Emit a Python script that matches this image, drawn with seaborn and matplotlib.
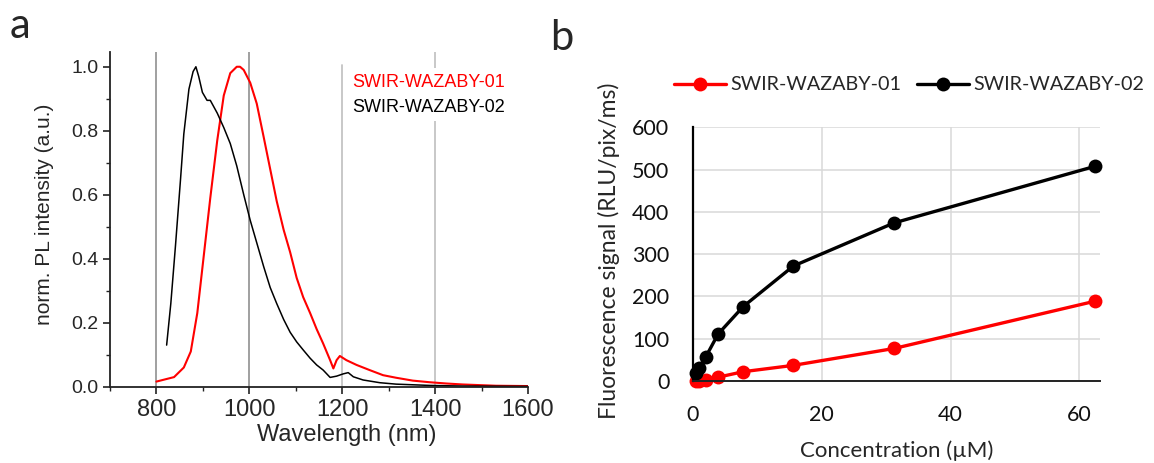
import pandas as pd
import matplotlib.pyplot as plt
import seaborn as sns
from matplotlib.lines import Line2D

# Panel a: normalized PL spectra
wl_01 = [800, 838, 859, 874, 888, 902, 916, 931, 945, 959, 973, 980, 988, 1002, 1016, 1031,
         1045, 1059, 1074, 1088, 1102, 1116, 1131, 1145, 1159, 1174, 1181, 1188, 1195, 1209,
         1231, 1259, 1288, 1316, 1352, 1388, 1424, 1459, 1495, 1531, 1600]
pl_01 = [0.016, 0.03, 0.06, 0.11, 0.23, 0.41, 0.59, 0.77, 0.91, 0.98, 1.0, 1.0, 0.99, 0.95,
         0.885, 0.78, 0.68, 0.58, 0.49, 0.42, 0.34, 0.28, 0.23, 0.18, 0.135, 0.083, 0.057,
         0.083, 0.096, 0.083, 0.068, 0.052, 0.036, 0.028, 0.019, 0.014, 0.01, 0.007, 0.005,
         0.003, 0.002]
wl_02 = [822, 831, 841, 852, 859, 870, 879, 885, 891, 899, 909, 916, 931, 945, 959, 973, 988,
         1002, 1016, 1031, 1045, 1059, 1074, 1088, 1102, 1116, 1131, 1145, 1159, 1174, 1188,
         1202, 1213, 1224, 1245, 1281, 1316, 1388, 1459, 1600]
pl_02 = [0.13, 0.26, 0.44, 0.65, 0.79, 0.93, 0.985, 1.0, 0.97, 0.92, 0.895, 0.895, 0.855, 0.81,
         0.76, 0.69, 0.60, 0.52, 0.45, 0.375, 0.31, 0.26, 0.21, 0.17, 0.14, 0.115, 0.089,
         0.068, 0.052, 0.029, 0.033, 0.040, 0.044, 0.031, 0.021, 0.0125, 0.008, 0.004, 0.002,
         0.001]

# Panel b: fluorescence vs concentration
conc = [0.49, 0.98, 1.95, 3.9, 7.8, 15.6, 31.25, 62.5]
signal_01 = [0, 1, 3, 9, 22, 37, 77, 189]
signal_02 = [18, 30, 56, 111, 176, 272, 374, 508]

names = ['SWIR-WAZABY-01', 'SWIR-WAZABY-02']
colors = {'SWIR-WAZABY-01': 'red', 'SWIR-WAZABY-02': 'black'}

spec_df = pd.concat([
    pd.DataFrame({'wl': wl_01, 'pl': pl_01, 'dye': names[0]}),
    pd.DataFrame({'wl': wl_02, 'pl': pl_02, 'dye': names[1]}),
])
conc_df = pd.concat([
    pd.DataFrame({'conc': conc, 'signal': signal_01, 'dye': names[0]}),
    pd.DataFrame({'conc': conc, 'signal': signal_02, 'dye': names[1]}),
])

sns.set_style('ticks')
plt.rcParams['font.family'] = ['Liberation Sans', 'DejaVu Sans']

fig = plt.figure(figsize=(11.54, 4.63), dpi=100)
ax1 = fig.add_axes([0.0953, 0.1648, 0.3622, 0.7235])
ax2 = fig.add_axes([0.6005, 0.1771, 0.3527, 0.548])

# ---- panel a ----
for x, c, top in [(800, '#999999', 1), (1000, '#999999', 1), (1200, '#c4c4c4', 0.96), (1400, '#c4c4c4', 1)]:
    ax1.axvline(x, ymax=top, color=c, linewidth=1.3, zorder=1)

sns.lineplot(data=spec_df, x='wl', y='pl', hue='dye', palette=colors, ax=ax1, legend=False)
ax1.lines[-2].set_linewidth(1.5)
ax1.lines[-1].set_linewidth(1.1)

ax1.set_xlim(700, 1600)
ax1.set_ylim(0, 1.047)
ax1.set_xticks(range(800, 1601, 200))
ax1.set_xticks(range(700, 1601, 100), minor=True)
ax1.set_yticks([0, 0.2, 0.4, 0.6, 0.8, 1.0])
ax1.set_yticks([0.1, 0.3, 0.5, 0.7, 0.9], minor=True)
ax1.yaxis.set_major_formatter(plt.FormatStrFormatter('%.1f'))
ax1.tick_params(axis='both', which='major', direction='out', length=5, width=1.2, color='#222222')
ax1.tick_params(axis='both', which='minor', direction='out', length=3, width=1.0, color='#222222')
ax1.tick_params(axis='x', labelsize=17, pad=4)
ax1.tick_params(axis='y', labelsize=14, pad=3)
sns.despine(ax=ax1)
for s in ['left', 'bottom']:
    ax1.spines[s].set_linewidth(1.3)
    ax1.spines[s].set_color('#222222')

ax1.set_xlabel('Wavelength (nm)', fontsize=17)
ax1.xaxis.set_label_coords(0.567, -0.112)
ax1.set_ylabel('norm. PL intensity (a.u.)', fontsize=15)
ax1.yaxis.set_label_coords(-0.134, 0.515)

blank = [Line2D([], [], color='none'), Line2D([], [], color='none')]
leg = ax1.legend(blank, names, loc='upper left', bbox_to_anchor=(0.545, 0.977),
                 handlelength=0, handletextpad=0, labelcolor=['red', 'black'],
                 frameon=True, facecolor='white', edgecolor='none', framealpha=1,
                 fontsize=13, borderpad=0.3, labelspacing=0.45, fancybox=False)

# ---- panel b ----
sns.lineplot(data=conc_df, x='conc', y='signal', hue='dye', palette=colors, ax=ax2,
             marker='o', markersize=10, markeredgewidth=0, linewidth=2.4, legend=False)
for ln in ax2.lines:
    ln.set_clip_on(False)

ax2.set_xlim(0, 63.2)
ax2.set_ylim(0, 600)
ax2.set_xticks([0, 20, 40, 60])
ax2.set_yticks(range(0, 601, 100))
ax2.grid(True, color='#d9d9d9', linewidth=1.1)
ax2.set_axisbelow(True)
ax2.tick_params(axis='both', length=0, pad=17, labelsize=15.5, labelcolor='#111111')
for lab in ax2.get_xticklabels() + ax2.get_yticklabels():
    lab.set_family(['Lato', 'DejaVu Sans'])
sns.despine(ax=ax2)
ax2.spines['left'].set_linewidth(1.6)
ax2.spines['left'].set_color('black')
ax2.spines['bottom'].set_linewidth(1.4)
ax2.spines['bottom'].set_color('#222222')

ax2.set_xlabel('Concentration (µM)', fontsize=16, family=['Lato', 'DejaVu Sans'])
ax2.xaxis.set_label_coords(0.5, -0.235)
ax2.set_ylabel('Fluorescence signal (RLU/pix/ms)', fontsize=16.5, family=['Lato', 'DejaVu Sans'])
ax2.yaxis.set_label_coords(-0.179, 0.512)

handles = [Line2D([], [], color=colors[n], marker='o', markersize=10, markeredgewidth=0,
                  linewidth=2.4) for n in names]
ax2.legend(handles, names, loc='center left', bbox_to_anchor=(-0.046, 1.167), ncol=2,
           frameon=False, prop={'family': ['Lato', 'DejaVu Sans'], 'size': 14.2},
           handlelength=2.6, handletextpad=0.25, columnspacing=0.8,
           borderpad=0, borderaxespad=0)

# panel letters
fig.text(0.0087, 0.917, 'a', fontsize=30, family=['Lato', 'DejaVu Sans'], va='baseline')
fig.text(0.477, 0.892, 'b', fontsize=30, family=['Lato', 'DejaVu Sans'], va='baseline')

plt.savefig('out.png', dpi=100)
